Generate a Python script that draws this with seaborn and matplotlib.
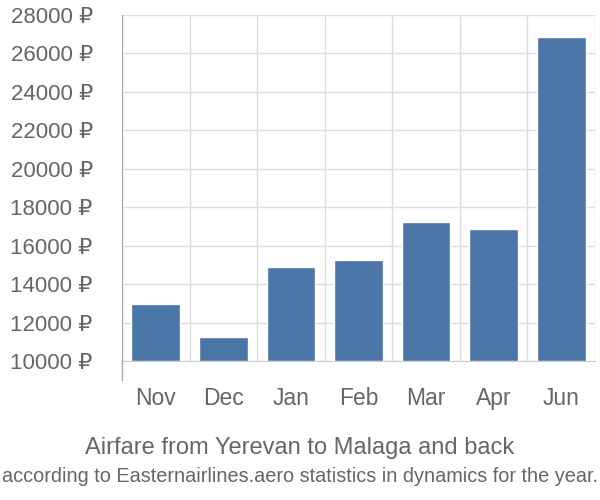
import matplotlib
matplotlib.use("Agg")
import matplotlib.pyplot as plt
import seaborn as sns
import pandas as pd
import numpy as np

months = ["Nov", "Dec", "Jan", "Feb", "Mar", "Apr", "Jun"]
prices = [12990, 11270, 14890, 15260, 17220, 16880, 26850]
yticks = [10000, 12000, 14000, 16000, 18000, 20000, 22000, 24000, 26000, 28000]
title = "Airfare from Yerevan to Malaga and back"
subtitle = "according to Easternairlines.aero statistics in dynamics for the year."

sns.set_style("white")
plt.rcParams['font.family'] = ['Liberation Sans', 'DejaVu Sans']

df = pd.DataFrame({"month": months, "price": prices})
base = 10000
df["h"] = df["price"] - base

fig = plt.figure(figsize=(6, 5), dpi=100)
ax = fig.add_axes([122/600, 139/500, 473/600, 346/500])

sns.barplot(data=df, x="month", y="h", bottom=base, color="#4a76a8",
            width=0.72, saturation=1, ax=ax, zorder=3)

ax.set_ylim(10000, 28000)
ax.set_xlim(-0.5, len(months) - 0.5)
ax.set_yticks(yticks)
ax.set_yticklabels([f"{v} ₽" for v in yticks])
ax.grid(axis="y", color="#dddddd", linewidth=1, zorder=0)
ax.set_xticks(np.arange(len(months)))
ax.set_xticks(np.arange(len(months) + 1) - 0.5, minor=True)
ax.grid(axis="x", which="minor", color="#dddddd", linewidth=1, zorder=0)
ax.tick_params(axis="x", which="major", length=0, pad=19, labelsize=16.5, labelcolor="#666666")
ax.tick_params(axis="x", which="minor", length=19, color="#dddddd", width=1)
ax.tick_params(axis="y", length=19, color="#dddddd", width=1, pad=2, labelsize=16, labelcolor="#666666")
for s in ["top", "right"]:
    ax.spines[s].set_visible(False)
ax.spines["bottom"].set_color("#cccccc")
ax.spines["left"].set_color("#aaaaaa")
ax.spines["left"].set_bounds(10000, 28000)
ax.set_xlabel("")
ax.set_ylabel("")

# extend left spine below
ax.plot([-0.5, -0.5], [10000 - 19 * 18000 / 346, 10000], color="#aaaaaa", lw=1,
        clip_on=False, zorder=4)

fig.text(0.5, 1 - 448/500, title, ha="center", va="center", fontsize=17, color="#666666")
fig.text(0.5, 1 - 476/500, subtitle, ha="center", va="center", fontsize=14.3, color="#666666")

fig.savefig("out.png", dpi=100)
